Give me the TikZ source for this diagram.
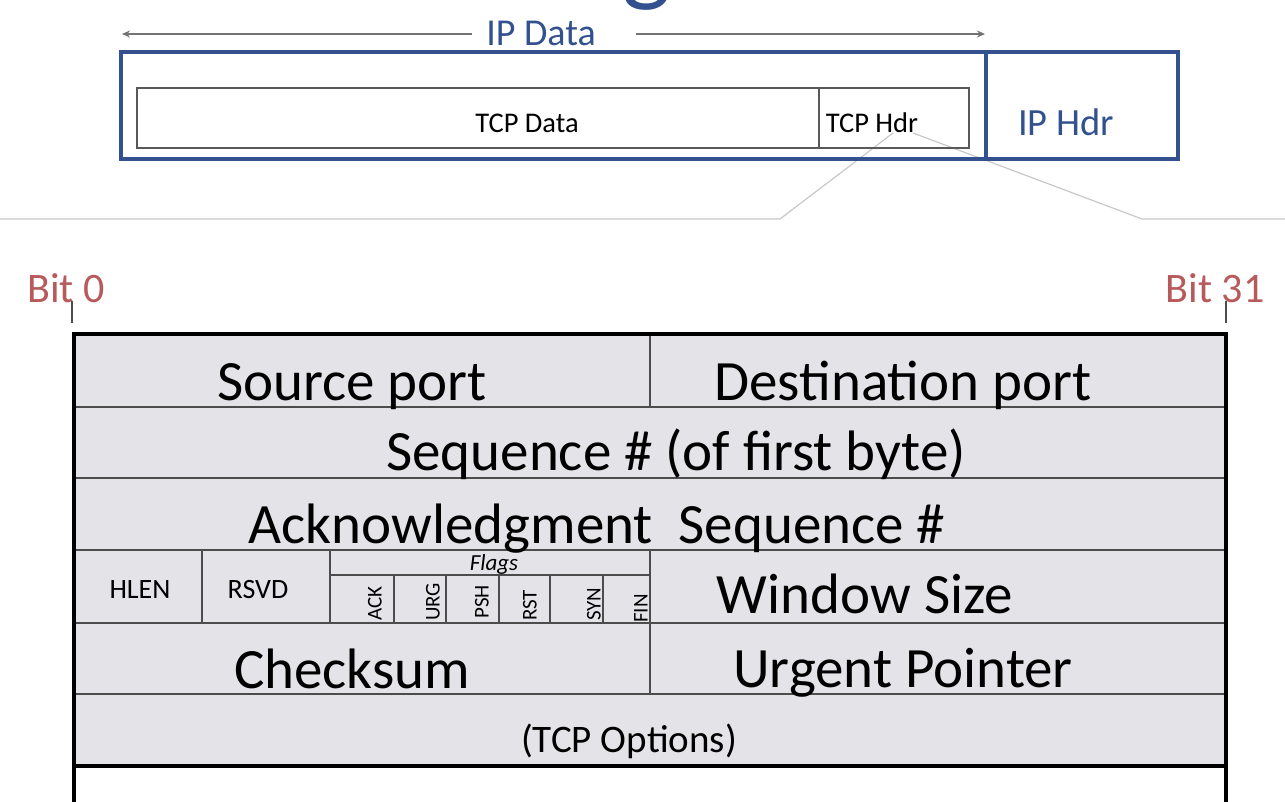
\documentclass[tikz,border=0pt]{standalone}
\usepackage{fontspec}
\usetikzlibrary{arrows.meta}
\setmainfont{Carlito}
\definecolor{ipblue}{HTML}{34518F}
\definecolor{bitred}{HTML}{B85A5C}
\definecolor{cellgray}{HTML}{E4E3E7}
\definecolor{linegray}{HTML}{C8C8C8}
\definecolor{titlefaint}{HTML}{EEF0F5}
\newcommand{\fs}[1]{\fontsize{#1}{#1}\selectfont}
\tikzset{
  lbl/.style={inner sep=0pt, anchor=base},
  bigtxt/.style={lbl, font=\fs{57}},
  rowline/.style={draw=black!70, line width=2pt},
  flagtxt/.style={inner sep=0pt, anchor=west, rotate=90, font=\fs{21}},
  zoomline/.style={draw=linegray, line width=1.2pt},
}
\begin{document}
\begin{tikzpicture}[x=1pt,y=-1pt]
\useasboundingbox (0,0) rectangle (1285,802);
% faded title, clipped at top
\node[inner sep=0pt, anchor=base, font=\fs{104}] (title) at (692,-7)
  {{\color{titlefaint}The TCP Se}{\color{ipblue}g}{\color{titlefaint}ment Format}};

% zoom lines
\coordinate (zl0) at (0,219);
\coordinate (zl1) at (780,219);
\coordinate (zl2) at (893,133);
\coordinate (zr0) at (913,133);
\coordinate (zr1) at (1142,219);
\coordinate (zr2) at (1285,219);
\draw[zoomline] (zl0) -- (zl1) -- (zl2);
\draw[zoomline] (zr0) -- (zr1) -- (zr2);

% IP box
\draw[ipblue, line width=4pt] (121,52) rectangle (1178,159);
\draw[ipblue, line width=4pt] (986,52) -- (986,159);
% TCP box
\draw[black!65, line width=1.3pt] (137,88) rectangle (969,148);
\draw[black!65, line width=1.3pt] (819,88) -- (819,148);
\node[lbl, font=\fs{28.5}] (tcpdata) at (527,133) {TCP Data};
\node[lbl, font=\fs{28.5}] (tcphdr) at (872,133) {TCP Hdr};
\node[lbl, font=\fs{38.5}, text=ipblue] (iphdr) at (1066,136) {IP Hdr};

% IP Data arrow
\node[lbl, font=\fs{38}, text=ipblue] (ipdata) at (541,46) {IP Data};
\coordinate (ipl) at (122,34);
\coordinate (ipr) at (985,34);
\draw[black!55, line width=1.3pt, -{Stealth[length=8pt,width=7pt]}] (472,34) -- (ipl);
\draw[black!55, line width=1.3pt, -{Stealth[length=8pt,width=7pt]}] (636,34) -- (ipr);

% Bit labels
\node[lbl, font=\fs{42}, text=bitred] (bit0) at (66,302) {Bit 0};
\node[lbl, font=\fs{42}, text=bitred] (bit31) at (1215,302) {Bit 31};
\draw[black!70, line width=1.2pt] (72,301) -- (72,323);
\draw[black!70, line width=1.2pt] (1226,301) -- (1226,323);

% table
\fill[cellgray] (74,334) rectangle (1226,766);
\foreach \y in {407,478,550,623,694} {\draw[rowline] (74,\y) -- (1226,\y);}
\draw[rowline] (650,334) -- (650,407);
\draw[rowline] (650,550) -- (650,694);
\draw[rowline] (202,550) -- (202,623);
\draw[rowline] (330,550) -- (330,623);
\draw[black!70, line width=1.3pt] (330,575) -- (650,575);
\foreach \x in {394,446,499,550,603} {\draw[black!70, line width=1.3pt] (\x,575) -- (\x,623);}
\draw[black, line width=4pt] (74,802) -- (74,334) -- (1226,334) -- (1226,802);
\draw[black, line width=4pt] (74,766) -- (1226,766);

\node[bigtxt] (srcport) at (352,400) {Source port};
\node[bigtxt] (dstport) at (903,400) {Destination port};
\node[bigtxt] (seq) at (676,470) {Sequence \# (of first byte)};
\node[bigtxt] (ack) at (597,543) {Acknowledgment\ \ Sequence \#};
\node[lbl, font=\fs{28}] (hlen) at (140,598) {HLEN};
\node[lbl, font=\fs{28}] (rsvd) at (258,598) {RSVD};
\node[lbl, font=\fs{23}\itshape] (flags) at (494,570) {Flags};
\node[flagtxt] (fack) at (375,621) {ACK};
\node[flagtxt] (furg) at (433,621) {URG};
\node[flagtxt] (fpsh) at (482,619) {PSH};
\node[flagtxt] (frst) at (530,621) {RST};
\node[flagtxt] (fsyn) at (594,621) {SYN};
\node[flagtxt] (ffin) at (641,623) {FIN};
\node[bigtxt] (win) at (865,613) {Window Size};
\node[bigtxt] (cks) at (352,688) {Checksum};
\node[bigtxt] (urg) at (903,687) {Urgent Pointer};
\node[lbl, font=\fs{39}] (opts) at (629,752) {(TCP Options)};
\end{tikzpicture}
\end{document}
